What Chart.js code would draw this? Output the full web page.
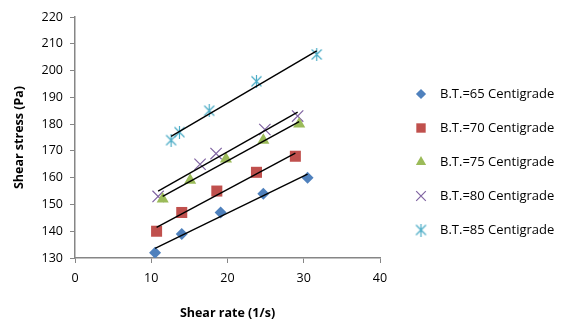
<!DOCTYPE html>
<html>
<head>
<meta charset="utf-8">
<script src="https://cdn.jsdelivr.net/npm/chart.js@4.4.1/dist/chart.umd.min.js"></script>
<style>
  html, body { margin: 0; padding: 0; background: #fff; }
  #wrap { width: 561px; height: 321px; position: relative; }
</style>
</head>
<body>
<div id="wrap"><canvas id="shearChart" width="561" height="321"></canvas></div>
<script>
const seriesNames = ['B.T.=65 Centigrade', 'B.T.=70 Centigrade', 'B.T.=75 Centigrade', 'B.T.=80 Centigrade', 'B.T.=85 Centigrade'];
const rate65 = [10.5, 14.0, 19.1, 24.7, 30.5];
const stress65 = [132, 139, 147, 154, 160];
const rate70 = [10.7, 14.0, 18.6, 23.8, 28.9];
const stress70 = [140, 147, 155, 162, 168];
const rate75 = [11.5, 15.1, 19.8, 24.7, 29.4];
const stress75 = [152, 159, 167, 174, 180];
const rate80 = [10.9, 16.4, 18.5, 24.9, 29.2];
const stress80 = [153, 165, 169, 178, 183];
const rate85 = [12.6, 13.7, 17.6, 23.8, 31.7];
const stress85 = [174, 177, 185, 196, 206];
const xTicks = [0, 10, 20, 30, 40];
const yTicks = [130, 140, 150, 160, 170, 180, 190, 200, 210, 220];

const colors = ['#4F81BD', '#C0504D', '#9BBB59', '#8064A2', '#4BACC6'];

// excel style asterisk marker (X plus vertical bar)
function starMarker(color) {
    const c = document.createElement('canvas');
    c.width = 13; c.height = 13;
    const g = c.getContext('2d');
    g.strokeStyle = color;
    g.lineWidth = 1.2;
    g.beginPath();
    g.moveTo(1.5, 1.5); g.lineTo(11.5, 11.5);
    g.moveTo(11.5, 1.5); g.lineTo(1.5, 11.5);
    g.moveTo(6.5, 0); g.lineTo(6.5, 13);
    g.stroke();
    return c;
}

const markers = [
    { style: 'rectRot', radius: 6 },
    { style: 'rect', radius: 7.8 },
    { style: 'triangle', radius: 7 },
    { style: 'crossRot', radius: 8 },
    { style: starMarker(colors[4]), radius: 6 }
];

const rates = [rate65, rate70, rate75, rate80, rate85];
const stresses = [stress65, stress70, stress75, stress80, stress85];

function points(xs, ys) {
    return xs.map((x, i) => ({ x: x, y: ys[i] }));
}

// least squares trendline between first and last x
function trend(xs, ys) {
    const n = xs.length;
    const mx = xs.reduce((a, b) => a + b, 0) / n;
    const my = ys.reduce((a, b) => a + b, 0) / n;
    let sxy = 0, sxx = 0;
    for (let i = 0; i < n; i++) {
        sxy += (xs[i] - mx) * (ys[i] - my);
        sxx += (xs[i] - mx) * (xs[i] - mx);
    }
    const k = sxy / sxx;
    const x0 = Math.min(...xs), x1 = Math.max(...xs);
    return [{ x: x0, y: my + k * (x0 - mx) }, { x: x1, y: my + k * (x1 - mx) }];
}

const datasets = [];
rates.forEach((xs, i) => {
    datasets.push({
        label: seriesNames[i],
        data: points(xs, stresses[i]),
        pointStyle: markers[i].style,
        pointRadius: markers[i].radius,
        pointHoverRadius: markers[i].radius,
        backgroundColor: colors[i],
        borderColor: colors[i],
        pointBorderWidth: i === 3 ? 1.2 : 0,
        showLine: false,
        order: 2
    });
});
rates.forEach((xs, i) => {
    datasets.push({
        label: 'trend' + i,
        data: trend(xs, stresses[i]),
        showLine: true,
        borderColor: '#000',
        borderWidth: 1.4,
        pointRadius: 0,
        order: 1
    });
});

const fontFam = "'Open Sans', 'Liberation Sans', sans-serif";

const sideLegend = {
    id: 'sideLegend',
    afterDraw(chart) {
        const ctx = chart.ctx;
        ctx.save();
        ctx.font = '13px ' + fontFam;
        ctx.textBaseline = 'middle';
        seriesNames.forEach((name, i) => {
            const y = 94 + i * 34;
            ctx.fillStyle = colors[i];
            ctx.strokeStyle = colors[i];
            ctx.lineWidth = 1.2;
            Chart.helpers.drawPoint(ctx, {
                pointStyle: markers[i].style,
                radius: markers[i].radius * 0.85,
                borderWidth: i === 3 ? 1.2 : 0
            }, 421, y);
            ctx.fillStyle = '#000';
            ctx.fillText(name, 440, y);
        });
        ctx.restore();
    }
};

new Chart(document.getElementById('shearChart'), {
    type: 'scatter',
    data: { datasets: datasets },
    plugins: [sideLegend],
    options: {
        responsive: false,
        animation: false,
        layout: { padding: { left: 8, right: 181, top: 17, bottom: 0 } },
        plugins: {
            legend: { display: false },
            tooltip: { enabled: false }
        },
        scales: {
            x: {
                min: 0, max: 40,
                afterBuildTicks: (s) => { s.ticks = xTicks.map(v => ({ value: v })); },
                grid: { drawOnChartArea: false, drawTicks: true, tickLength: 5, color: '#868686' },
                border: { color: '#868686', width: 1.5 },
                ticks: { color: '#000', font: { family: fontFam, size: 12.5 }, padding: 8 },
                title: { display: true, text: 'Shear rate (1/s)', color: '#000', font: { family: fontFam, size: 12.5, weight: 'bold' }, padding: { top: 4, bottom: 0 } },
                afterFit: (s) => { s.height = 63; }
            },
            y: {
                min: 130, max: 220,
                afterBuildTicks: (s) => { s.ticks = yTicks.map(v => ({ value: v })); },
                grid: { drawOnChartArea: false, drawTicks: true, tickLength: 5, color: '#868686' },
                border: { color: '#868686', width: 1.5 },
                ticks: { color: '#000', font: { family: fontFam, size: 12.5 }, padding: 7 },
                title: { display: true, text: 'Shear stress (Pa)', color: '#000', font: { family: fontFam, size: 12.5, weight: 'bold' }, padding: { top: 4, bottom: 4 } },
                afterFit: (s) => { s.width = 67; }
            }
        }
    }
});
</script>
</body>
</html>
